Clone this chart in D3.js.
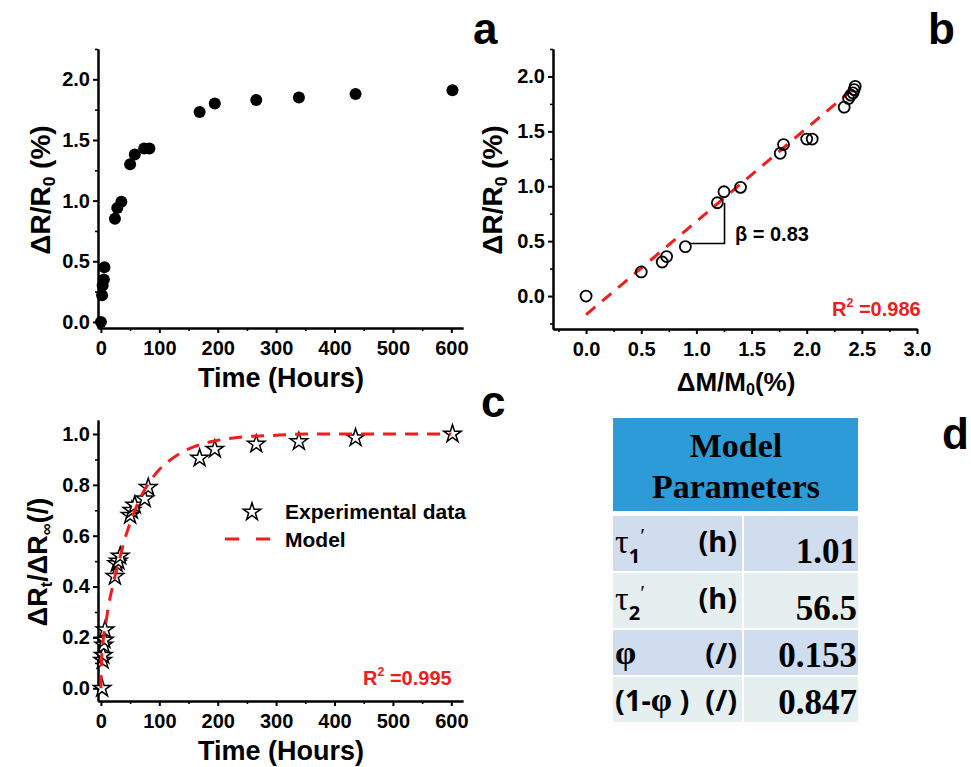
<!DOCTYPE html>
<html>
<head>
<meta charset="utf-8">
<script src="https://cdn.jsdelivr.net/npm/d3@7/dist/d3.min.js"></script>
<style>
  body { margin: 0; background: #fff; }
  svg { display: block; font-family: "Liberation Sans", Arial, sans-serif; }
  .axis path, .axis line { stroke: #000; stroke-width: 2; }
  .axis text { font-size: 20px; font-weight: bold; fill: #000; font-family: "Liberation Sans", Arial, sans-serif; }
  .minor line { stroke-width: 1.6; }
</style>
</head>
<body>
<svg width="971" height="767"></svg>
<script>
// ---- data ----
// panel a: resistance change vs time
let timeA = [0, 2, 3, 5, 6, 24, 28, 35, 50, 58, 74, 83, 169, 195, 266, 339, 436, 602];
let drA   = [0, 0.22, 0.30, 0.35, 0.45, 0.85, 0.94, 0.99, 1.30, 1.38, 1.43, 1.43, 1.73, 1.80, 1.83, 1.85, 1.88, 1.91];

// panel b: resistance change vs moisture uptake
let dmB = [0, 0.50, 0.69, 0.73, 0.90, 1.19, 1.25, 1.40, 1.76, 1.79, 2.00, 2.05, 2.34, 2.38, 2.40, 2.42, 2.43, 2.44];
let drB = [0, 0.22, 0.31, 0.36, 0.45, 0.85, 0.95, 0.99, 1.30, 1.38, 1.43, 1.43, 1.72, 1.80, 1.83, 1.85, 1.88, 1.91];
let fitB = [[0, -0.17], [2.46, 1.92]];
let slopeB = [[0.94, 0.478], [1.255, 0.478], [1.255, 0.85]];

// panel c: normalised response and model
let timeC = [2, 3, 4, 5, 6, 7, 24, 27, 30, 33, 50, 53, 58, 75, 81, 169, 195, 266, 339, 436, 602];
let normC = [0, 0.11, 0.13, 0.17, 0.19, 0.23, 0.44, 0.49, 0.50, 0.52, 0.68, 0.70, 0.72, 0.745, 0.79, 0.905, 0.94, 0.96, 0.97, 0.985, 1.0];
let modelT = [0, 0.5, 1, 2, 3, 5, 8, 12, 16, 20, 25, 30, 40, 50, 60, 70, 80, 100, 120, 140, 160, 180, 200, 250, 300, 350, 400, 500, 600];
let modelV = [0, 0.06, 0.10, 0.15, 0.17, 0.21, 0.25, 0.31, 0.36, 0.40, 0.45, 0.49, 0.58, 0.65, 0.71, 0.76, 0.80, 0.86, 0.90, 0.93, 0.95, 0.965, 0.975, 0.99, 0.995, 1.0, 1.0, 1.0, 1.0];

// panel d: model parameters table
let paramSymbols = ['τ1′', 'τ2′', 'φ', '(1-φ )'];
let paramUnits = ['(h)', '(h)', '(/)', '(/)'];
let paramValues = ['1.01', '56.5', '0.153', '0.847'];

let red = '#f21c1c';
let svg = d3.select('svg');

function range(a, b, s) {
    return d3.range(Math.round((b - a) / s) + 1).map(i => +(a + i * s).toFixed(4));
}

function drawAxes(x, y, xMajor, xMinor, yMajor, yMinor, fx, fy) {
    let [y0] = y.range();
    let [x0] = x.range();
    let g = svg.append('g');
    g.append('g').attr('class', 'axis minor')
        .attr('transform', `translate(0, ${y0})`)
        .call(d3.axisBottom(x).tickValues(xMinor).tickSize(3).tickSizeOuter(0).tickFormat(''));
    g.append('g').attr('class', 'axis minor')
        .attr('transform', `translate(${x0}, 0)`)
        .call(d3.axisLeft(y).tickValues(yMinor).tickSize(3).tickSizeOuter(0).tickFormat(''));
    g.append('g').attr('class', 'axis')
        .attr('transform', `translate(0, ${y0})`)
        .call(d3.axisBottom(x).tickValues(xMajor).tickSize(5).tickPadding(8).tickSizeOuter(0).tickFormat(fx));
    g.append('g').attr('class', 'axis')
        .attr('transform', `translate(${x0}, 0)`)
        .call(d3.axisLeft(y).tickValues(yMajor).tickSize(5).tickPadding(3).tickSizeOuter(0).tickFormat(fy));
    g.selectAll('.domain').attr('stroke-width', 2.2);
    return g;
}

function label(x, y, parts, size, opts = {}) {
    let t = svg.append('text')
        .attr('font-size', size)
        .attr('font-weight', opts.weight || 'bold')
        .attr('fill', opts.fill || '#000')
        .attr('text-anchor', opts.anchor || 'start')
        .attr('transform', `translate(${x}, ${y})` + (opts.rotate ? ' rotate(-90)' : ''));
    parts.forEach(p => {
        if (typeof p === 'string') t.append('tspan').text(p);
        else t.append('tspan')
            .attr('font-size', size * 0.62)
            .attr('baseline-shift', p.sup ? '75%' : '-28%')
            .text(p.t);
    });
    return t;
}

let f1 = d3.format('.1f');

// ---------- panel a ----------
let xA = d3.scaleLinear().domain([-5, 620]).range([98, 463]);
let yA = d3.scaleLinear().domain([-0.05, 2.25]).range([328, 49]);
drawAxes(xA, yA, range(0, 600, 100), range(50, 550, 100), range(0, 2, 0.5), range(0.25, 2.25, 0.5), d3.format('d'), f1);

svg.append('g').selectAll('circle')
    .data(timeA)
    .enter()
    .append('circle')
    .attr('cx', d => xA(d))
    .attr('cy', (d, i) => yA(drA[i]))
    .attr('r', 6)
    .attr('fill', '#000');

label(281, 387, ['Time (Hours)'], 27, { anchor: 'middle' });
label(50, 190, ['ΔR/R', { t: '0' }, ' (%)'], 28, { anchor: 'middle', rotate: true });
label(473, 44, ['a'], 44);

// ---------- panel b ----------
let xB = d3.scaleLinear().domain([-0.3, 3.0]).range([553, 917]);
let yB = d3.scaleLinear().domain([-0.3, 2.25]).range([329, 49]);
drawAxes(xB, yB, range(0, 3, 0.5), range(-0.25, 2.75, 0.5), range(0, 2, 0.5), range(-0.25, 2.25, 0.5), f1, f1);

svg.append('path')
    .datum(fitB)
    .attr('d', d3.line().x(d => xB(d[0])).y(d => yB(d[1])))
    .attr('fill', 'none')
    .attr('stroke', red)
    .attr('stroke-width', 3)
    .attr('stroke-dasharray', '12,9');

svg.append('path')
    .datum(slopeB)
    .attr('d', d3.line().x(d => xB(d[0])).y(d => yB(d[1])))
    .attr('fill', 'none')
    .attr('stroke', '#000')
    .attr('stroke-width', 1.6);

svg.append('g').selectAll('circle')
    .data(dmB)
    .enter()
    .append('circle')
    .attr('cx', d => xB(d))
    .attr('cy', (d, i) => yB(drB[i]))
    .attr('r', 5.5)
    .attr('fill', 'none')
    .attr('stroke', '#000')
    .attr('stroke-width', 1.8);

label(735, 241, ['β = 0.83'], 20);
label(832, 316, ['R', { t: '2', sup: true }, ' =0.986'], 20, { fill: red });
label(736, 391, ['ΔM/M', { t: '0' }, '(%)'], 26, { anchor: 'middle' });
label(502, 190, ['ΔR/R', { t: '0' }, ' (%)'], 28, { anchor: 'middle', rotate: true });
label(928, 44, ['b'], 44);

// ---------- panel c ----------
let xC = d3.scaleLinear().domain([-5, 620]).range([98, 463]);
let yC = d3.scaleLinear().domain([-0.05, 1.055]).range([701, 420]);
drawAxes(xC, yC, range(0, 600, 100), range(50, 550, 100), range(0, 1, 0.2), range(0.1, 0.9, 0.2), d3.format('d'), f1);

let star = d3.symbol().type(d3.symbolStar).size(95);
svg.append('g').selectAll('path')
    .data(timeC)
    .enter()
    .append('path')
    .attr('d', star)
    .attr('transform', (d, i) => `translate(${xC(d)}, ${yC(normC[i])})`)
    .attr('fill', '#fff')
    .attr('stroke', '#000')
    .attr('stroke-width', 1.5);

svg.append('path')
    .datum(modelT)
    .attr('d', d3.line().curve(d3.curveMonotoneX).x(d => xC(d)).y((d, i) => yC(modelV[i])))
    .attr('fill', 'none')
    .attr('stroke', red)
    .attr('stroke-width', 3)
    .attr('stroke-dasharray', '13,9');

// legend
svg.append('path').attr('d', star).attr('transform', 'translate(252, 512)')
    .attr('fill', '#fff').attr('stroke', '#000').attr('stroke-width', 1.5);
svg.append('line').attr('x1', 225).attr('x2', 271).attr('y1', 539).attr('y2', 539)
    .attr('stroke', red).attr('stroke-width', 3).attr('stroke-dasharray', '14,17');
label(285, 519, ['Experimental data'], 21);
label(285, 547, ['Model'], 21);

label(363, 685, ['R', { t: '2', sup: true }, ' =0.995'], 20, { fill: red });
label(281, 760, ['Time (Hours)'], 27, { anchor: 'middle' });
label(47, 562, ['ΔR', { t: 't' }, '/ΔR', { t: '∞' }, '(/)'], 27, { anchor: 'middle', rotate: true });
label(481, 417, ['c'], 44);

// ---------- panel d: table ----------
let tbl = svg.append('g');
let rowTop = [516, 573, 630, 677];
let rowH = [55, 55, 45, 45];
let rowFill = ['#cfddef', '#e6eff0', '#cfddef', '#e6eff0'];
let serif = '"Liberation Serif", "Times New Roman", serif';

tbl.append('rect').attr('x', 613).attr('y', 418).attr('width', 245).attr('height', 93).attr('fill', '#2c9bd7');
tbl.append('text').attr('x', 736).attr('y', 457).attr('text-anchor', 'middle')
    .attr('font-family', serif)
    .attr('font-weight', 'bold').attr('font-size', 34).text('Model');
tbl.append('text').attr('x', 736).attr('y', 498).attr('text-anchor', 'middle')
    .attr('font-family', serif)
    .attr('font-weight', 'bold').attr('font-size', 34).text('Parameters');

let rows = tbl.selectAll('g.row')
    .data(paramValues)
    .enter()
    .append('g')
    .attr('class', 'row');

rows.append('rect')
    .attr('x', 613).attr('y', (d, i) => rowTop[i])
    .attr('width', 129).attr('height', (d, i) => rowH[i])
    .attr('fill', (d, i) => rowFill[i]);
rows.append('rect')
    .attr('x', 744).attr('y', (d, i) => rowTop[i])
    .attr('width', 114).attr('height', (d, i) => rowH[i])
    .attr('fill', (d, i) => rowFill[i]);

rows.append('text')
    .attr('x', 857).attr('y', (d, i) => rowTop[i] + rowH[i] - 8)
    .attr('text-anchor', 'end')
    .attr('font-family', serif)
    .attr('font-weight', 'bold').attr('font-size', 35)
    .text(d => d);

rows.append('text')
    .attr('x', 737).attr('y', (d, i) => rowTop[i] + (i < 2 ? 36 : 34))
    .attr('text-anchor', 'end')
    .attr('font-family', '"Noto Sans", sans-serif')
    .attr('font-weight', 'bold')
    .attr('font-size', 29)
    .text((d, i) => paramUnits[i]);

rows.each(function (d, i) {
    let s = paramSymbols[i];
    let t = d3.select(this).append('text')
        .attr('x', 615).attr('y', rowTop[i] + (i < 2 ? 37 : 34))
        .attr('font-size', 30);
    if (s.length === 3) {
        t.append('tspan').attr('font-family', serif).attr('font-size', 34).text(s[0]);
        t.append('tspan').attr('font-family', '"Noto Sans", sans-serif').attr('font-weight', 'bold')
            .attr('font-size', 20).attr('dy', 10).text(s[1]);
        t.append('tspan').attr('font-family', serif).attr('font-size', 22).attr('dy', -20).text(s[2]);
    } else {
        s.split('').forEach(c => {
            t.append('tspan')
                .attr('font-family', c === 'φ' ? serif : '"Noto Sans", sans-serif')
                .attr('font-weight', 'bold')
                .attr('font-size', c === 'φ' ? 34 : 29)
                .text(c);
        });
    }
});

label(942, 449, ['d'], 44);
</script>
</body>
</html>
